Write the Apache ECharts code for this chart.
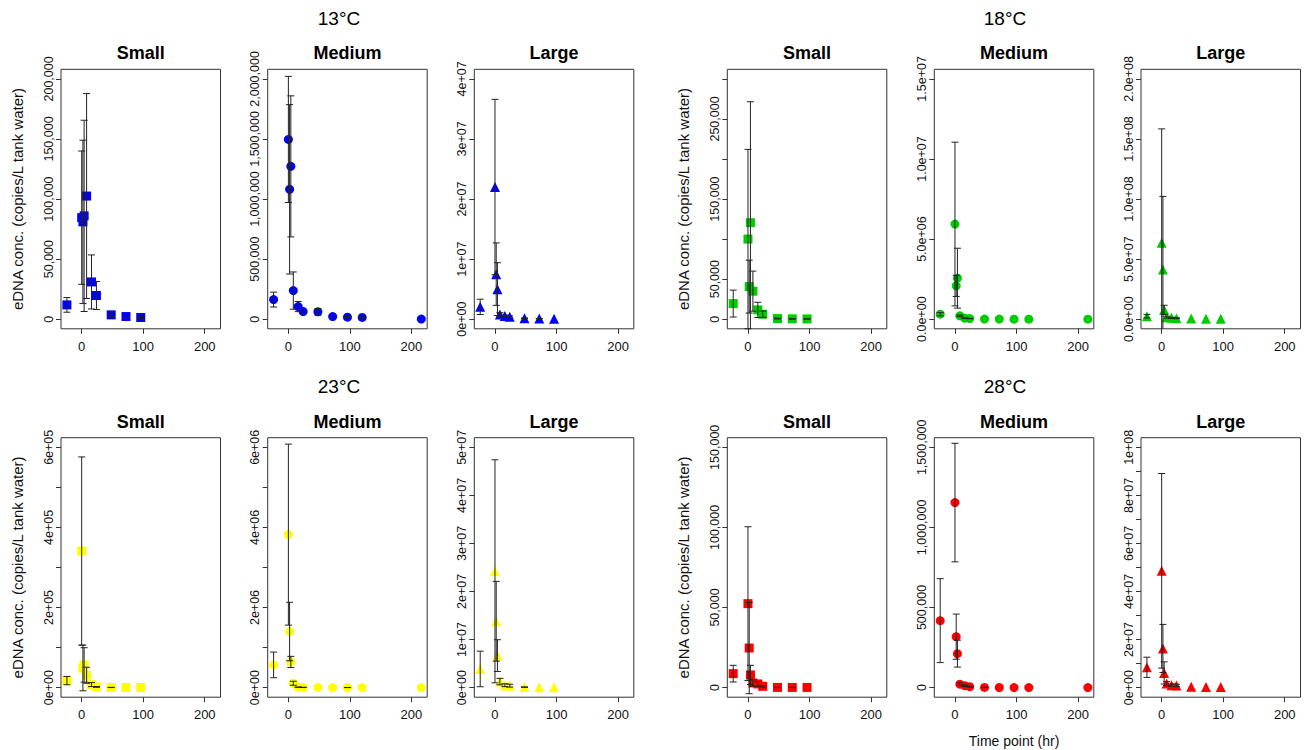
<!DOCTYPE html>
<html>
<head>
<meta charset="utf-8">
<script src="https://cdn.jsdelivr.net/npm/echarts@6/dist/echarts.min.js"></script>
<style>
  html, body { margin: 0; padding: 0; background: #fff; }
  #chart { width: 1304px; height: 750px; }
</style>
</head>
<body>
<div id="chart"></div>
<script>
// Sampling times (hours)
const hoursShort = [-24, 0, 2, 4, 8, 16, 24, 48, 72, 96];
const hoursLong = [-24, 0, 2, 4, 8, 16, 24, 48, 72, 96, 120, 216];

const temperatures = ['13°C', '18°C', '23°C', '28°C'];
const sizeClasses = ['Small', 'Medium', 'Large'];

// Mean eDNA concentration and standard error (copies/L tank water)
const mean13Small = [11900, 84500, 81000, 86000, 102500, 31000, 19700, 3600, 2200, 1400];
const se13Small = [6100, 55500, 68000, 79600, 85300, 22500, 11700, 1500, 1000, 600];
const mean13Medium = [163000, 1496000, 1081000, 1272000, 238000, 105000, 64000, 61000, 22000, 17000, 15000, 1000];
const se13Medium = [62000, 525000, 705000, 587000, 155000, 42000, 15000, 28000, 8000, 5000, 5000, 0];
const mean13Large = [2050000, 22000000, 7500000, 5000000, 780000, 550000, 400000, 150000, 100000, 80000];
const se13Large = [1270000, 14600000, 5200000, 4400000, 300000, 150000, 150000, 50000, 30000, 0];

const mean18Small = [19500, 100000, 40700, 120500, 35000, 11600, 6200, 800, 400, 300];
const se18Small = [16800, 112000, 33000, 151000, 25000, 9500, 4000, 500, 300, 200];
const mean18Medium = [310000, 5940000, 2080000, 2560000, 210000, 60000, 40000, 10000, 5000, 3000, 2000, 1000];
const se18Medium = [100000, 5110000, 660000, 1870000, 50000, 20000, 10000, 0, 0, 0, 0, 0];
const mean18Large = [2500000, 63700000, 41300000, 7800000, 1700000, 1100000, 800000, 500000, 400000, 300000];
const se18Large = [1500000, 94700000, 60900000, 3800000, 800000, 500000, 400000, 0, 0, 0];

const mean23Small = [17500, 341000, 49000, 56600, 30800, 7500, 1700, 300, 200, 200];
const se23Small = [10400, 235000, 57000, 43000, 20000, 5000, 1000, 200, 0, 0];
const mean23Medium = [566000, 3820000, 1400000, 640000, 108000, 10000, 5000, 2000, 1500, 1000, 800, 500];
const se23Medium = [320000, 2260000, 730000, 140000, 50000, 5000, 3000, 0, 0, 1000, 0, 0];
const mean23Large = [3880000, 24200000, 13800000, 6660000, 1250000, 500000, 400000, 100000, 80000, 60000];
const se23Large = [3700000, 23200000, 8300000, 3300000, 670000, 300000, 300000, 50000, 0, 0];

const mean28Small = [8700, 52400, 24700, 7900, 2900, 2300, 800, 100, 100, 100];
const se28Small = [5200, 48000, 28500, 6000, 2000, 1500, 500, 100, 100, 0];
const mean28Medium = [418000, 1155000, 318000, 212000, 21000, 12000, 6000, 1000, 500, 300, 200, 100];
const se28Medium = [262000, 370000, 141000, 84000, 8000, 5000, 3000, 1000, 0, 0, 0, 0];
const mean28Large = [8450000, 48600000, 16300000, 6100000, 1660000, 1000000, 900000, 300000, 250000, 200000];
const se28Large = [4200000, 40500000, 10000000, 4600000, 800000, 500000, 500000, 0, 0, 0];

// Axis ticks and their labels ('' = tick without a label)
const xTicks = [0, 100, 200];
const xTickLabels = ['0', '100', '200'];
const xLimits = [-24, 216];

const ticks13Small = [0, 50000, 100000, 150000, 200000];
const labels13Small = ['0', '50,000', '100,000', '150,000', '200,000'];
const ticks13Medium = [0, 500000, 1000000, 1500000, 2000000];
const labels13Medium = ['0', '500,000', '1,000,000', '1,500,000', '2,000,000'];
const ticks13Large = [0, 1e7, 2e7, 3e7, 4e7];
const labels13Large = ['0e+00', '1e+07', '2e+07', '3e+07', '4e+07'];

const ticks18Small = [0, 50000, 100000, 150000, 200000, 250000, 300000];
const labels18Small = ['0', '50,000', '', '150,000', '', '250,000', ''];
const ticks18Medium = [0, 5e6, 1e7, 1.5e7];
const labels18Medium = ['0.0e+00', '5.0e+06', '1.0e+07', '1.5e+07'];
const ticks18Large = [0, 5e7, 1e8, 1.5e8, 2e8];
const labels18Large = ['0.0e+00', '5.0e+07', '1.0e+08', '1.5e+08', '2.0e+08'];

const ticks23Small = [0, 1e5, 2e5, 3e5, 4e5, 5e5, 6e5];
const labels23Small = ['0e+00', '', '2e+05', '', '4e+05', '', '6e+05'];
const ticks23Medium = [0, 1e6, 2e6, 3e6, 4e6, 5e6, 6e6];
const labels23Medium = ['0e+00', '', '2e+06', '', '4e+06', '', '6e+06'];
const ticks23Large = [0, 1e7, 2e7, 3e7, 4e7, 5e7];
const labels23Large = ['0e+00', '1e+07', '2e+07', '3e+07', '4e+07', '5e+07'];

const ticks28Small = [0, 50000, 100000, 150000];
const labels28Small = ['0', '50,000', '100,000', '150,000'];
const ticks28Medium = [0, 500000, 1000000, 1500000];
const labels28Medium = ['0', '500,000', '1,000,000', '1,500,000'];
const ticks28Large = [0, 1e7, 2e7, 3e7, 4e7, 5e7, 6e7, 7e7, 8e7, 9e7, 1e8];
const labels28Large = ['0e+00', '', '2e+07', '', '4e+07', '', '6e+07', '', '8e+07', '', '1e+08'];

const yTitle = 'eDNA conc. (copies/L tank water)';
const xTitle = 'Time point (hr)';

// Panels in drawing order: row-major over the 2 x 6 grid
const panels = [
  { t: 0, s: 0, hours: hoursShort, mean: mean13Small, se: se13Small, ticks: ticks13Small, labels: labels13Small },
  { t: 0, s: 1, hours: hoursLong, mean: mean13Medium, se: se13Medium, ticks: ticks13Medium, labels: labels13Medium },
  { t: 0, s: 2, hours: hoursShort, mean: mean13Large, se: se13Large, ticks: ticks13Large, labels: labels13Large },
  { t: 1, s: 0, hours: hoursShort, mean: mean18Small, se: se18Small, ticks: ticks18Small, labels: labels18Small },
  { t: 1, s: 1, hours: hoursLong, mean: mean18Medium, se: se18Medium, ticks: ticks18Medium, labels: labels18Medium },
  { t: 1, s: 2, hours: hoursShort, mean: mean18Large, se: se18Large, ticks: ticks18Large, labels: labels18Large },
  { t: 2, s: 0, hours: hoursShort, mean: mean23Small, se: se23Small, ticks: ticks23Small, labels: labels23Small },
  { t: 2, s: 1, hours: hoursLong, mean: mean23Medium, se: se23Medium, ticks: ticks23Medium, labels: labels23Medium },
  { t: 2, s: 2, hours: hoursShort, mean: mean23Large, se: se23Large, ticks: ticks23Large, labels: labels23Large },
  { t: 3, s: 0, hours: hoursShort, mean: mean28Small, se: se28Small, ticks: ticks28Small, labels: labels28Small },
  { t: 3, s: 1, hours: hoursLong, mean: mean28Medium, se: se28Medium, ticks: ticks28Medium, labels: labels28Medium },
  { t: 3, s: 2, hours: hoursShort, mean: mean28Large, se: se28Large, ticks: ticks28Large, labels: labels28Large }
];

// Layout
const colLeft = [61, 267.7, 474.3, 727.3, 934.3, 1141];
const rowTop = [69.3, 437.7];
const boxW = 159.5;
const boxH = 259.5;
const temperatureColors = ['#0000ff', '#00cd00', '#ffff00', '#ff0000'];
const sizeSymbols = ['rect', 'circle', 'triangle'];
const sizeSymbolSize = [9, 9, 10];
const FONT = '"Liberation Sans", Arial, Helvetica, sans-serif';
const INK = '#111';
const PAD = 0.04; // axis range padding on each side

const grids = [], xAxes = [], yAxes = [], series = [], graphics = [];

panels.forEach((p, i) => {
  const row = p.t >= 2 ? 1 : 0;
  const col = (p.t % 2) * 3 + p.s;
  const left = colLeft[col], top = rowTop[row];

  grids.push({
    left: left, top: top, width: boxW, height: boxH,
    show: true, borderColor: '#333', borderWidth: 1, backgroundColor: 'transparent',
    containLabel: false, outerBoundsMode: 'none'
  });

  const xSpan = xLimits[1] - xLimits[0];
  const xAxis = {
    type: 'value', gridIndex: i,
    min: xLimits[0] - PAD * xSpan, max: xLimits[1] + PAD * xSpan,
    axisLine: { show: false, onZero: false },
    splitLine: { show: false },
    axisTick: { show: true, length: 5, customValues: xTicks, lineStyle: { color: '#333' } },
    axisLabel: {
      show: true, customValues: xTicks, margin: 11,
      fontFamily: FONT, fontSize: 13, color: INK,
      formatter: v => xTickLabels[xTicks.indexOf(v)]
    }
  };
  if (p.t === 3 && p.s === 1) {
    Object.assign(xAxis, {
      name: xTitle, nameLocation: 'middle', nameGap: 37,
      nameTextStyle: { fontFamily: FONT, fontSize: 14, color: INK }
    });
  }
  xAxes.push(xAxis);

  const yMax = p.ticks[p.ticks.length - 1];
  const labelVals = p.ticks.filter((v, k) => p.labels[k] !== '');
  const yAxis = {
    type: 'value', gridIndex: i,
    min: -PAD * yMax, max: (1 + PAD) * yMax,
    axisLine: { show: false, onZero: false },
    splitLine: { show: false },
    axisTick: { show: true, length: 5, customValues: p.ticks, lineStyle: { color: '#333' } },
    axisLabel: {
      show: true, customValues: labelVals, rotate: 90, margin: 6,
      fontFamily: FONT, fontSize: 12.5, color: INK,
      formatter: v => {
        const k = p.ticks.findIndex(t => Math.abs(t - v) <= 1e-6 * yMax);
        return k >= 0 ? p.labels[k] : '';
      }
    }
  };
  if (p.s === 0) {
    Object.assign(yAxis, {
      name: yTitle, nameLocation: 'middle', nameRotate: 90, nameGap: 36,
      nameTextStyle: { fontFamily: FONT, fontSize: 15, color: INK }
    });
  }
  yAxes.push(yAxis);

  const color = temperatureColors[p.t];
  series.push({
    type: 'scatter', xAxisIndex: i, yAxisIndex: i,
    symbol: sizeSymbols[p.s], symbolSize: sizeSymbolSize[p.s],
    itemStyle: { color: color, opacity: 1 },
    data: p.hours.map((h, k) => [h, p.mean[k]]),
    z: 2, silent: true, animation: false
  });

  // Error bars: mean +/- SE with flat caps, clipped to the plot box
  series.push({
    type: 'custom', xAxisIndex: i, yAxisIndex: i,
    data: p.hours.map((h, k) => [h, p.mean[k] - p.se[k], p.mean[k] + p.se[k]]).filter((d, k) => p.se[k] > 0),
    encode: { x: 0, y: [1, 2] },
    z: 3, silent: true, animation: false,
    renderItem: (params, api) => {
      const x = api.value(0);
      const lo = api.coord([x, api.value(1)]);
      const hi = api.coord([x, api.value(2)]);
      const cs = params.coordSys;
      const yTop = cs.y, yBot = cs.y + cs.height;
      const px = lo[0];
      const cap = 3.5;
      const style = { stroke: '#222', lineWidth: 1 };
      const children = [{
        type: 'line',
        shape: { x1: px, y1: Math.max(hi[1], yTop), x2: px, y2: Math.min(lo[1], yBot) },
        style: style
      }];
      if (hi[1] >= yTop) children.push({ type: 'line', shape: { x1: px - cap, y1: hi[1], x2: px + cap, y2: hi[1] }, style: style });
      if (lo[1] <= yBot) children.push({ type: 'line', shape: { x1: px - cap, y1: lo[1], x2: px + cap, y2: lo[1] }, style: style });
      return { type: 'group', children: children };
    }
  });

  // Panel title
  graphics.push({
    type: 'text', x: left + boxW / 2, y: top - 16,
    style: { text: sizeClasses[p.s], font: 'bold 18px ' + FONT, fill: '#000', align: 'center', verticalAlign: 'middle' }
  });
});

// Temperature headings above each group of three panels
const groupCenter = [339, 1005];
temperatures.forEach((t, k) => {
  const row = k >= 2 ? 1 : 0;
  graphics.push({
    type: 'text', x: groupCenter[k % 2], y: rowTop[row] - 51,
    style: { text: t, font: '19px ' + FONT, fill: '#000', align: 'center', verticalAlign: 'middle' }
  });
});

const chart = echarts.init(document.getElementById('chart'), null, { renderer: 'svg', width: 1304, height: 750 });
chart.setOption({
  animation: false,
  backgroundColor: '#fff',
  grid: grids,
  xAxis: xAxes,
  yAxis: yAxes,
  series: series,
  graphic: graphics
});
</script>
</body>
</html>
